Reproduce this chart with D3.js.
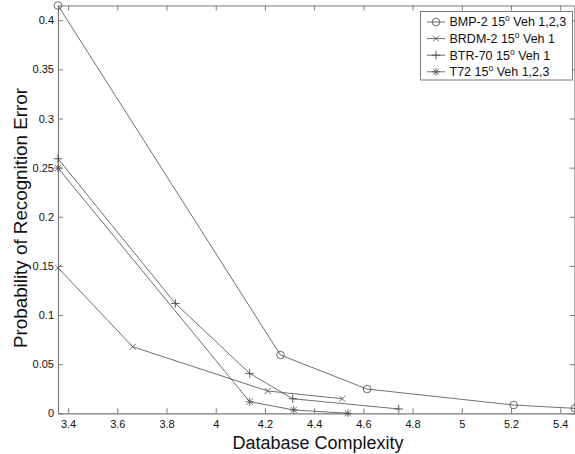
<!DOCTYPE html>
<html>
<head>
<meta charset="utf-8">
<script src="https://cdn.jsdelivr.net/npm/d3@7"></script>
<style>
  html, body { margin: 0; padding: 0; background: #fff; }
  svg { display: block; font-family: "Liberation Sans", Arial, Helvetica, sans-serif; }
</style>
</head>
<body>
<svg id="chart" width="575" height="454"></svg>
<script>
// Recognition error versus database complexity, four vehicle configurations
const seriesNames = ["BMP-2", "BRDM-2", "BTR-70", "T72"];
const seriesLabels = ["Veh 1,2,3", "Veh 1", "Veh 1", "Veh 1,2,3"];
const seriesMarkers = ["circle", "cross", "plus", "star"];

const bmp2X = [3.359, 4.263, 4.615, 5.211, 5.46];
const bmp2Y = [0.415, 0.0593, 0.0247, 0.0084, 0.005];

const brdm2X = [3.359, 3.663, 4.211, 4.514];
const brdm2Y = [0.148, 0.0677, 0.0227, 0.0148];

const btr70X = [3.359, 3.836, 4.138, 4.313, 4.744];
const btr70Y = [0.259, 0.1118, 0.0406, 0.0148, 0.0044];

const t72X = [3.359, 4.138, 4.317, 4.537];
const t72Y = [0.2496, 0.0118, 0.0034, 0.0];

const xTicks = [3.4, 3.6, 3.8, 4, 4.2, 4.4, 4.6, 4.8, 5, 5.2, 5.4];
const yTicks = [0, 0.05, 0.1, 0.15, 0.2, 0.25, 0.3, 0.35, 0.4];

const xDomain = [3.359, 5.46];
const yDomain = [0, 0.415];

const seriesX = [bmp2X, brdm2X, btr70X, t72X];
const seriesY = [bmp2Y, brdm2Y, btr70Y, t72Y];

const svg = d3.select("#chart");
const plotLeft = 58, plotRight = 575, plotTop = 5.5, plotBottom = 413.3;

const x = d3.scaleLinear().domain(xDomain).range([plotLeft, plotRight]);
const y = d3.scaleLinear().domain(yDomain).range([plotBottom, plotTop]);

const axisColor = "#7a7a7a";
const lineColor = "#4a4a4a";
const tickFmt = d => String(+d.toFixed(2));

// axes box with inward ticks on all four sides
const gB = svg.append("g").attr("transform", `translate(0,${plotBottom})`)
  .call(d3.axisBottom(x).tickValues(xTicks).tickSize(-5).tickSizeOuter(0).tickPadding(6.5).tickFormat(tickFmt));
const gT = svg.append("g").attr("transform", `translate(0,${plotTop})`)
  .call(d3.axisTop(x).tickValues(xTicks).tickSize(-5).tickSizeOuter(0).tickFormat(""));
const gL = svg.append("g").attr("transform", `translate(${plotLeft},0)`)
  .call(d3.axisLeft(y).tickValues(yTicks).tickSize(-5).tickSizeOuter(0).tickPadding(4).tickFormat(tickFmt));
const gR = svg.append("g").attr("transform", `translate(${plotRight - 0.5},0)`)
  .call(d3.axisRight(y).tickValues(yTicks).tickSize(-5).tickSizeOuter(0).tickFormat(""));

[gB, gT, gL, gR].forEach(g => {
  g.select(".domain").attr("stroke", axisColor).attr("stroke-width", 1.2);
  g.selectAll(".tick line").attr("stroke", axisColor);
  g.selectAll(".tick text").attr("fill", "#111").attr("font-size", 11)
    .attr("font-family", "'Liberation Sans', Arial, sans-serif");
});

// clip to plot area
svg.append("clipPath").attr("id", "plotClip")
  .append("rect").attr("x", plotLeft - 6).attr("y", plotTop - 6)
  .attr("width", plotRight - plotLeft + 12).attr("height", plotBottom - plotTop + 12);

const plot = svg.append("g").attr("clip-path", "url(#plotClip)");

function drawMarker(g, type, cx, cy) {
  const s = 3.8;
  if (type === "circle") {
    g.append("circle").attr("cx", cx).attr("cy", cy).attr("r", s)
      .attr("fill", "none").attr("stroke", lineColor).attr("stroke-width", 0.8);
  } else if (type === "cross") {
    const a = 3;
    g.append("path").attr("d", `M${cx - a},${cy - a}L${cx + a},${cy + a}M${cx - a},${cy + a}L${cx + a},${cy - a}`)
      .attr("stroke", lineColor).attr("stroke-width", 0.8);
  } else if (type === "plus") {
    const a = 4.2;
    g.append("path").attr("d", `M${cx - a},${cy}L${cx + a},${cy}M${cx},${cy - a}L${cx},${cy + a}`)
      .attr("stroke", lineColor).attr("stroke-width", 0.9);
  } else if (type === "star") {
    const a = 4, b = 3;
    g.append("path").attr("d",
      `M${cx - a},${cy}L${cx + a},${cy}M${cx},${cy - a}L${cx},${cy + a}` +
      `M${cx - b},${cy - b}L${cx + b},${cy + b}M${cx - b},${cy + b}L${cx + b},${cy - b}`)
      .attr("stroke", lineColor).attr("stroke-width", 0.8);
  }
}

const line = d3.line().x(d => x(d[0])).y(d => y(d[1]));

seriesNames.forEach((name, i) => {
  const pts = seriesX[i].map((v, j) => [v, seriesY[i][j]]);
  plot.append("path").datum(pts).attr("d", line)
    .attr("fill", "none").attr("stroke", lineColor).attr("stroke-width", 0.8);
  const mg = plot.append("g");
  pts.forEach(p => drawMarker(mg, seriesMarkers[i], x(p[0]), y(p[1])));
});

// legend
const lg = svg.append("g");
lg.append("rect").attr("x", 420.5).attr("y", 11.5).attr("width", 152).attr("height", 68.5)
  .attr("fill", "#fff").attr("stroke", axisColor).attr("stroke-width", 1);
seriesNames.forEach((name, i) => {
  const ly = 22 + i * 16.6;
  lg.append("line").attr("x1", 427).attr("x2", 445).attr("y1", ly).attr("y2", ly)
    .attr("stroke", lineColor).attr("stroke-width", 0.8);
  drawMarker(lg, seriesMarkers[i], 436, ly);
  const t = lg.append("text").attr("x", 449.5).attr("y", ly + 4.3)
    .attr("font-size", 12.5).attr("fill", "#111");
  t.append("tspan").text(name + " 15");
  t.append("tspan").attr("dy", -5).attr("font-size", 8.5).text("o");
  t.append("tspan").attr("dy", 5).text(" " + seriesLabels[i]);
});

// axis titles
svg.append("text").attr("x", 318).attr("y", 449).attr("text-anchor", "middle")
  .attr("font-size", 18).attr("fill", "#111").text("Database Complexity");
svg.append("text").attr("transform", "translate(27,218) rotate(-90)").attr("text-anchor", "middle")
  .attr("font-size", 18.8).attr("fill", "#111").text("Probability of Recognition Error");
</script>
</body>
</html>
